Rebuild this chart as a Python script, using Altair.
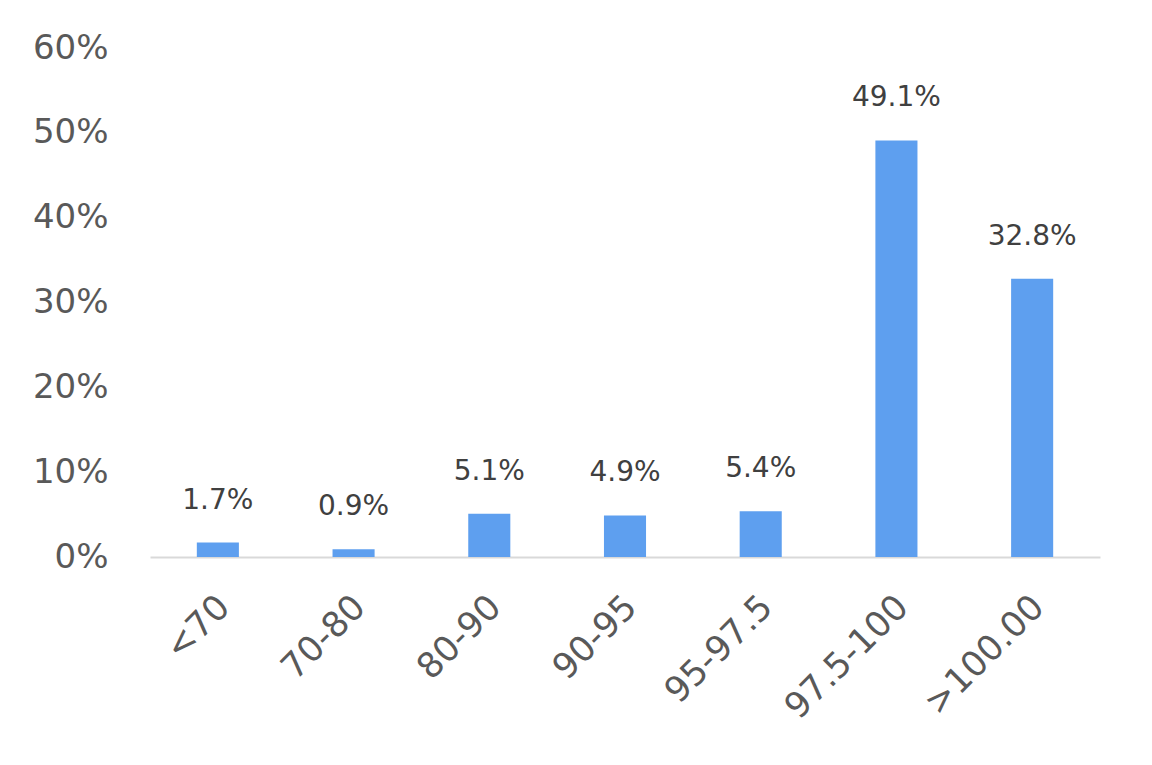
import altair as alt
import pandas as pd

categories = ["<70", "70-80", "80-90", "90-95", "95-97.5", "97.5-100", ">100.00"]
values = [0.017, 0.009, 0.051, 0.049, 0.054, 0.491, 0.328]

df = pd.DataFrame({"cat": categories, "val": values})

FONT = "DejaVu Sans"

x = alt.X("cat:N", sort=categories, title=None,
          scale=alt.Scale(paddingInner=0.69, paddingOuter=0.345),
          axis=alt.Axis(labelAngle=-45, labelAlign="right", labelBaseline="top",
                        labelPadding=32, labelOffset=-6, labelFontSize=35,
                        labelColor="#595959", labelFont=FONT, ticks=False,
                        domainColor="#d9d9d9", domainWidth=2, grid=False))
y = alt.Y("val:Q", title=None,
          scale=alt.Scale(domain=[0, 0.6], nice=False),
          axis=alt.Axis(format=".0%", values=[0, 0.1, 0.2, 0.3, 0.4, 0.5, 0.6],
                        labelFontSize=34, labelColor="#595959", labelFont=FONT,
                        labelPadding=42, ticks=False, domain=False, grid=False))

bars = alt.Chart(df).mark_bar(color="#5E9FEF").encode(x=x, y=y)
labels = alt.Chart(df).mark_text(baseline="alphabetic", dy=-34, fontSize=28,
                                 color="#404040", font=FONT).encode(
    x=alt.X("cat:N", sort=categories), y="val:Q", text=alt.Text("val:Q", format=".1%"))

chart = (bars + labels).properties(
    width=950, height=509,
    background="white",
    autosize=alt.AutoSizeParams(type="none"),
    padding={"left": 142, "top": 40, "right": 44, "bottom": 200},
).configure_view(stroke="transparent", strokeWidth=0)

chart.save("out.html", embed_options={"renderer": "svg", "actions": False})
